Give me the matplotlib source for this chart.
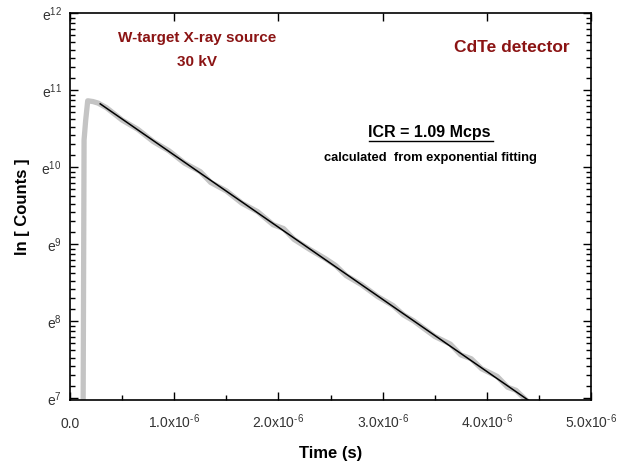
import numpy as np
import matplotlib
matplotlib.use("Agg")
import matplotlib.pyplot as plt
from matplotlib.ticker import FixedLocator, FuncFormatter, MultipleLocator
from matplotlib.lines import Line2D

plt.rcParams["font.family"] = ["Liberation Sans", "DejaVu Sans"]
plt.rcParams["mathtext.fontset"] = "custom"
plt.rcParams["mathtext.rm"] = "Liberation Sans"
plt.rcParams["mathtext.it"] = "Liberation Sans"

# =====================
# DATA (time in us, ln of counts)
# =====================
data_t = [0.125, 0.135, 0.15, 0.17, 0.22, 0.27, 0.35, 0.5, 0.65, 0.8, 0.95,
          1.1, 1.25, 1.35, 1.5, 1.65, 1.8, 1.95, 2.05, 2.15, 2.3, 2.45, 2.55,
          2.65, 2.8, 2.95, 3.1, 3.2, 3.3, 3.5, 3.65, 3.75, 3.85, 3.95, 4.1,
          4.2, 4.28, 4.38, 4.46]
data_ln = [6.5, 10.35, 10.6, 10.86, 10.85, 10.83, 10.77, 10.61, 10.49, 10.33,
           10.21, 10.05, 9.94, 9.80, 9.69, 9.53, 9.42, 9.25, 9.20, 9.06, 8.93,
           8.81, 8.72, 8.59, 8.47, 8.32, 8.20, 8.08, 8.00, 7.80, 7.70, 7.56,
           7.51, 7.38, 7.28, 7.14, 7.10, 6.97, 6.88]

fit_t = [0.29, 4.40]
fit_ln = [10.82, 6.97]

y_majors = [7, 8, 9, 10, 11, 12]
x_majors = [0, 1, 2, 3, 4, 5]

dark_red = "#8b1414"

# =====================
# PLOT
# =====================
fig = plt.figure(figsize=(6.18, 4.65), dpi=100)
ax = fig.add_axes([70 / 618, 1 - 400 / 465, 521 / 618, 387 / 465])

t = np.array(data_t) * 1e-6
ax.plot(t, np.exp(data_ln), color="#c4c4c4", lw=3.8, solid_joinstyle="round")
ax.plot(np.array(fit_t) * 1e-6, np.exp(fit_ln), color="black", lw=1.1)

ax.set_yscale("log", base=np.e)
ax.set_ylim(np.exp(6.974), np.exp(12))
ax.set_xlim(0, 5e-6)

ax.yaxis.set_major_locator(FixedLocator(np.exp(y_majors)))
ax.yaxis.set_major_formatter(FuncFormatter(lambda v, p: r"e$^{%d}$" % round(np.log(v))))
minors = [np.exp(n) * (1 + (np.e - 1) * k / 10) for n in range(6, 12) for k in range(1, 10)]
ax.yaxis.set_minor_locator(FixedLocator(minors))
ax.yaxis.set_minor_formatter(FuncFormatter(lambda v, p: ""))

ax.xaxis.set_major_locator(FixedLocator([x * 1e-6 for x in x_majors]))
ax.xaxis.set_major_formatter(FuncFormatter(
    lambda v, p: "0.0" if abs(v) < 1e-12 else r"%.1fx10$^{\text{-}6}$" % (v * 1e6)))
ax.xaxis.set_minor_locator(MultipleLocator(0.5e-6))

for s in ax.spines.values():
    s.set_linewidth(1.2)
ax.tick_params(which="both", direction="in", top=True, right=True,
               width=1.0, labelsize=10, colors="black", labelcolor="#333333")
ax.tick_params(which="major", length=6, pad=6)
ax.tick_params(axis="x", which="major", pad=20)
ax.tick_params(which="minor", length=3.5, top=False)
for lab in ax.get_xticklabels():
    lab.set_verticalalignment("baseline")

ax.set_xlabel("Time (s)", fontsize=12, fontweight="bold", labelpad=11)
ax.set_ylabel("ln [ Counts ]", fontsize=12, fontweight="bold", labelpad=8)

fig.text(197 / 618, 1 - 38 / 465, "W-target X-ray source", color=dark_red,
         fontsize=11, fontweight="bold", ha="center", va="center")
fig.text(197 / 618, 1 - 62 / 465, "30 kV", color=dark_red,
         fontsize=11, fontweight="bold", ha="center", va="center")
fig.text(512 / 618, 1 - 48 / 465, "CdTe detector", color=dark_red,
         fontsize=12.5, fontweight="bold", ha="center", va="center")
icr = fig.text(432 / 618, 1 - 133 / 465, "ICR = 1.09 Mcps ", color="black",
               fontsize=11.5, fontweight="bold", ha="center", va="center")
fig.text(430 / 618, 1 - 158 / 465, "calculated  from exponential fitting",
         color="black", fontsize=9.3, fontweight="bold", ha="center", va="center")

# underline for the ICR label
fig.canvas.draw()
bb = icr.get_window_extent().transformed(fig.transFigure.inverted())
fig.add_artist(Line2D([bb.x0, bb.x1 - 0.004], [bb.y0 - 0.002, bb.y0 - 0.002],
                      transform=fig.transFigure, color="black", lw=1.0))

fig.savefig("out.png", dpi=100)
